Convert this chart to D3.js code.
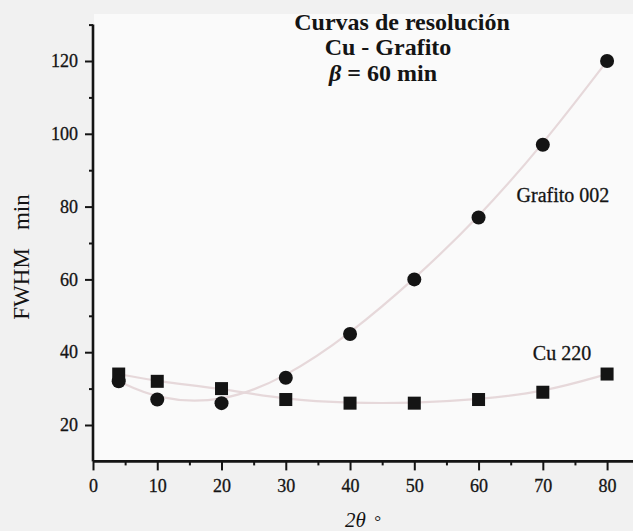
<!DOCTYPE html>
<html><head><meta charset="utf-8">
<script src="https://cdn.jsdelivr.net/npm/d3@7"></script>
<style>html,body{margin:0;padding:0;background:#f1f1f1;}svg{display:block;}</style>
</head><body>
<script>
const twoTheta = [4, 10, 20, 30, 40, 50, 60, 70, 80];
const grafito002 = [32, 27, 26, 33, 45, 60, 77, 97, 120];
const cu220 = [34, 32, 30, 27, 26, 26, 27, 29, 34];
const xTicks = [0, 10, 20, 30, 40, 50, 60, 70, 80];
const yTicks = [20, 40, 60, 80, 100, 120];
const titleLines = ["Curvas de resolución", "Cu - Grafito"];

const W = 633, H = 531;
const svg = d3.select("body").append("svg").attr("width", W).attr("height", H);
svg.append("rect").attr("width", W).attr("height", H).attr("fill", "#f1f1f1");
svg.append("rect").attr("x", 94).attr("y", 14).attr("width", 539).attr("height", 446).attr("fill", "#fafafa");

const x = d3.scaleLinear().domain([0, 84.5]).range([93, 636]);
const y = d3.scaleLinear().domain([10, 130]).range([461.4, 24.6]);
const font = "'Liberation Serif', 'Times New Roman', serif";
const ink = "#141414";

// curves
const line = d3.line().x((d, i) => x(twoTheta[i])).y(d => y(d)).curve(d3.curveBasis);
svg.append("path").attr("d", line(grafito002)).attr("fill", "none").attr("stroke", "#e6d8da").attr("stroke-width", 2.2);
svg.append("path").attr("d", line(cu220)).attr("fill", "none").attr("stroke", "#e6d8da").attr("stroke-width", 2.2);

// axes
const xAxis = d3.axisBottom(x).tickValues(xTicks).tickSize(9).tickPadding(9).tickFormat(d3.format("d"));
const gx = svg.append("g").attr("transform", `translate(0,${y(10)})`).call(xAxis);
const xMinor = d3.axisBottom(x).tickValues([5,15,25,35,45,55,65,75,85]).tickSize(4).tickFormat("");
svg.append("g").attr("transform", `translate(0,${y(10)})`).call(xMinor).select(".domain").remove();

const yAxis = d3.axisLeft(y).tickValues(yTicks).tickSize(8).tickPadding(7).tickFormat(d3.format("d"));
const gy = svg.append("g").attr("transform", `translate(${x(0)},0)`).call(yAxis);
const yMinor = d3.axisLeft(y).tickValues([30,50,70,90,110,130]).tickSize(4).tickFormat("");
svg.append("g").attr("transform", `translate(${x(0)},0)`).call(yMinor).select(".domain").remove();

[gx, gy].forEach(g => {
  g.select(".domain").attr("stroke", ink).attr("stroke-width", 2.6);
  g.selectAll(".tick text").attr("fill", ink).style("font-family", font).style("font-size", "18px")
    .attr("stroke", ink).attr("stroke-width", 0.3);
});
svg.selectAll("g").selectAll(".tick line").attr("stroke", ink).attr("stroke-width", 2);
gy.select(".domain").attr("d", `M0,${y(130)}V${y(10)}`);
gx.select(".domain").attr("d", `M${x(0)},0H${W}`);

// markers
svg.append("g").selectAll("rect").data(cu220).join("rect")
  .attr("x", (d, i) => x(twoTheta[i]) - 6.5).attr("y", d => y(d) - 6.5)
  .attr("width", 13).attr("height", 13).attr("fill", ink);
svg.append("g").selectAll("circle").data(grafito002).join("circle")
  .attr("cx", (d, i) => x(twoTheta[i])).attr("cy", d => y(d)).attr("r", 7).attr("fill", ink);

// texts
const t = svg.append("g").style("font-family", font).attr("fill", ink);
const tb = (sel) => sel.style("font-size", "24px").style("font-weight", "bold").attr("text-anchor", "middle");
tb(t.append("text").attr("x", 402).attr("y", 30)).text(titleLines[0]);
tb(t.append("text").attr("x", 388).attr("y", 55)).text(titleLines[1]);
const l3 = tb(t.append("text").attr("x", 383).attr("y", 81));
l3.append("tspan").style("font-style", "italic").text("β");
l3.append("tspan").text(" = 60 min");

t.append("text").attr("x", 563).attr("y", 202).attr("text-anchor", "middle").style("font-size", "20px")
  .attr("stroke", ink).attr("stroke-width", 0.3).text("Grafito 002");
t.append("text").attr("x", 562).attr("y", 360).attr("text-anchor", "middle").style("font-size", "20px")
  .attr("stroke", ink).attr("stroke-width", 0.3).text("Cu 220");

const yl = t.append("text").attr("transform", "translate(29,257) rotate(-90)").attr("text-anchor", "middle").style("font-size", "23px");
yl.append("tspan").text("FWHM");
yl.append("tspan").attr("dx", 18).text("min");
const xl = t.append("text").attr("x", 345).attr("y", 527).style("font-size", "21px").style("font-style", "italic");
xl.append("tspan").text("2θ");
xl.append("tspan").attr("dx", 8).style("font-size", "17px").text("°");
</script>
</body></html>
